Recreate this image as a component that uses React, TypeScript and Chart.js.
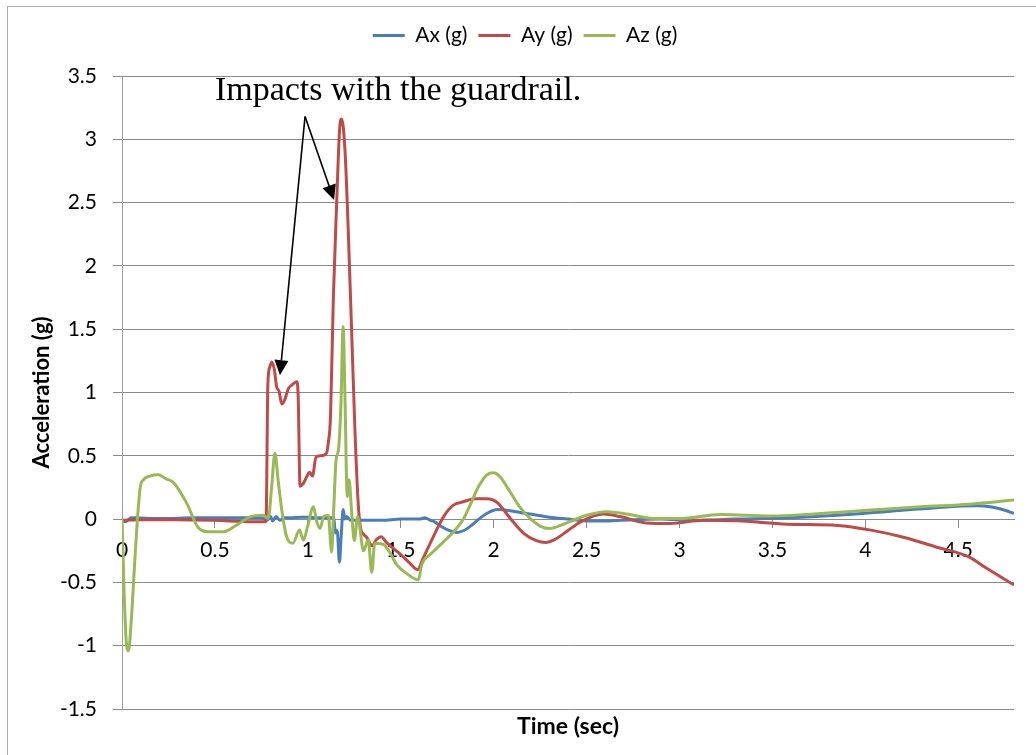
import { useEffect, useRef } from 'react';
import { Chart, registerables } from 'chart.js';

Chart.register(...registerables);

// ---- data (time in seconds, acceleration in g) ----
const axTime = [0, 0.02, 0.05, 0.2, 0.4, 0.6, 0.75, 0.78, 0.8, 0.81, 0.83, 0.85, 0.87, 0.9, 0.97, 1.0, 1.05, 1.1, 1.14, 1.148, 1.158, 1.17, 1.18, 1.19, 1.2, 1.21, 1.23, 1.3, 1.4, 1.5, 1.6, 1.63, 1.66, 1.68, 1.72, 1.77, 1.8, 1.84, 1.88, 1.92, 1.97, 2.02, 2.08, 2.15, 2.22, 2.3, 2.4, 2.5, 2.6, 2.75, 2.9, 3.05, 3.3, 3.6, 3.85, 4.12, 4.38, 4.6, 4.68, 4.75, 4.8];
const axValues = [-0.015, -0.02, 0.01, 0.005, 0.01, 0.01, 0.01, -0.01, 0.02, -0.015, 0.02, -0.01, 0.01, 0.01, 0.015, 0.015, 0.01, 0.01, 0.01, -0.11, -0.09, -0.34, -0.12, 0.075, 0.0, 0.02, -0.01, -0.01, -0.01, 0.0, 0.0, 0.01, -0.01, -0.02, -0.06, -0.095, -0.105, -0.09, -0.05, 0.0, 0.05, 0.075, 0.068, 0.05, 0.035, 0.015, 0.0, -0.015, -0.015, -0.005, 0.0, -0.01, 0.0, 0.01, 0.03, 0.06, 0.09, 0.105, 0.095, 0.07, 0.045];

const ayTime = [0, 0.1, 0.3, 0.5, 0.7, 0.775, 0.785, 0.795, 0.806, 0.82, 0.832, 0.845, 0.86, 0.875, 0.895, 0.915, 0.94, 0.948, 0.958, 0.975, 0.994, 1.01, 1.025, 1.044, 1.07, 1.1, 1.11, 1.122, 1.137, 1.155, 1.172, 1.182, 1.2, 1.218, 1.236, 1.254, 1.272, 1.285, 1.3, 1.32, 1.345, 1.37, 1.395, 1.42, 1.45, 1.5, 1.55, 1.59, 1.62, 1.675, 1.73, 1.783, 1.837, 1.9, 1.96, 1.99, 2.02, 2.09, 2.16, 2.23, 2.28, 2.33, 2.4, 2.47, 2.59, 2.68, 2.82, 2.95, 3.13, 3.31, 3.58, 3.85, 4.03, 4.21, 4.38, 4.56, 4.64, 4.8];
const ayValues = [-0.01, -0.005, -0.005, -0.01, -0.02, -0.02, 1.07, 1.2, 1.24, 1.18, 1.045, 1.01, 0.91, 0.94, 1.03, 1.06, 1.085, 0.97, 0.26, 0.28, 0.335, 0.37, 0.34, 0.49, 0.5, 0.52, 0.6, 0.81, 1.73, 2.49, 3.1, 3.16, 2.91, 2.26, 1.47, 0.68, 0.1, -0.08, -0.12, -0.15, -0.21, -0.16, -0.14, -0.18, -0.22, -0.28, -0.35, -0.4, -0.31, -0.14, 0.018, 0.11, 0.137, 0.16, 0.16, 0.155, 0.13, 0.005, -0.11, -0.17, -0.185, -0.16, -0.09, -0.02, 0.04, 0.02, -0.03, -0.034, -0.01, -0.014, -0.04, -0.05, -0.087, -0.145, -0.22, -0.3, -0.377, -0.52];

const azTime = [0, 0.012, 0.022, 0.035, 0.05, 0.07, 0.083, 0.098, 0.115, 0.15, 0.195, 0.235, 0.276, 0.348, 0.41, 0.47, 0.545, 0.617, 0.689, 0.76, 0.787, 0.805, 0.823, 0.84, 0.86, 0.886, 0.92, 0.955, 0.976, 1.0, 1.03, 1.048, 1.066, 1.085, 1.11, 1.128, 1.14, 1.152, 1.165, 1.178, 1.19, 1.2, 1.212, 1.222, 1.235, 1.25, 1.268, 1.3, 1.325, 1.344, 1.36, 1.406, 1.44, 1.478, 1.532, 1.595, 1.613, 1.658, 1.73, 1.8, 1.837, 1.873, 1.918, 1.963, 1.998, 2.034, 2.088, 2.14, 2.196, 2.25, 2.3, 2.36, 2.41, 2.5, 2.61, 2.716, 2.86, 3.0, 3.22, 3.49, 3.76, 4.03, 4.3, 4.56, 4.8];
const azValues = [0.0, -0.6, -0.95, -1.04, -0.8, -0.3, 0.0, 0.25, 0.31, 0.34, 0.35, 0.32, 0.29, 0.126, -0.066, -0.1, -0.1, -0.047, 0.018, 0.03, 0.005, 0.25, 0.52, 0.31, 0.07, -0.14, -0.19, -0.087, -0.166, -0.05, 0.097, -0.02, -0.074, 0.02, 0.03, -0.26, 0.1, 0.47, 0.55, 0.9, 1.52, 0.95, 0.18, 0.31, 0.07, -0.17, 0.02, -0.25, -0.166, -0.42, -0.19, -0.2, -0.26, -0.36, -0.43, -0.48, -0.36, -0.28, -0.18, -0.074, 0.0, 0.11, 0.255, 0.35, 0.366, 0.335, 0.216, 0.097, 0.005, -0.055, -0.074, -0.05, -0.02, 0.03, 0.058, 0.04, 0.005, 0.005, 0.037, 0.024, 0.045, 0.071, 0.097, 0.118, 0.15];

const seriesNames = ['Ax (g)', 'Ay (g)', 'Az (g)'];
const seriesColors = ['#4A7EBB', '#BE4B48', '#98B954'];

const xMin = 0;
const xMax = 4.8;
const xStep = 0.5;
const yMin = -1.5;
const yMax = 3.5;
const yStep = 0.5;

const xTitle = 'Time (sec)';
const yTitle = 'Acceleration (g)';

// annotation (in data units)
const noteText = 'Impacts with the guardrail.';
const noteAt = { t: 0.5, v: 3.31 };
const arrowFrom = { t: 0.985, v: 3.18 };
const arrowTips = [
  { t: 0.85, v: 1.137 },
  { t: 1.141, v: 2.52 },
];

const toPoints = (ts: number[], vs: number[]) => ts.map((t, i) => ({ x: t, y: vs[i] }));
const plainNumber = (value: any) => String(Number(value));

export default function App() {
  const ref = useRef<HTMLCanvasElement>(null);

  useEffect(() => {
    document.body.style.overflow = 'hidden';
    const canvas = ref.current;
    if (!canvas) return;

    const notePlugin = {
      id: 'guardrailNote',
      afterDatasetsDraw(chart: any) {
        const { ctx, scales } = chart;
        const x = scales.x;
        const y = scales.y;
        ctx.save();
        ctx.fillStyle = '#000';
        ctx.strokeStyle = '#000';
        ctx.font = '34px "Liberation Serif", "DejaVu Serif", serif';
        ctx.textAlign = 'left';
        ctx.textBaseline = 'alphabetic';
        ctx.fillText(noteText, x.getPixelForValue(noteAt.t), y.getPixelForValue(noteAt.v));
        const ox = x.getPixelForValue(arrowFrom.t);
        const oy = y.getPixelForValue(arrowFrom.v);
        arrowTips.forEach((tip) => {
          const tx = x.getPixelForValue(tip.t);
          const ty = y.getPixelForValue(tip.v);
          const a = Math.atan2(ty - oy, tx - ox);
          const c = Math.cos(a);
          const s = Math.sin(a);
          const headLen = 15;
          const headHalf = 7;
          const bx = tx - headLen * c;
          const by = ty - headLen * s;
          ctx.lineWidth = 1.6;
          ctx.beginPath();
          ctx.moveTo(ox, oy);
          ctx.lineTo(bx, by);
          ctx.stroke();
          ctx.beginPath();
          ctx.moveTo(tx, ty);
          ctx.lineTo(bx + headHalf * s, by - headHalf * c);
          ctx.lineTo(bx - headHalf * s, by + headHalf * c);
          ctx.closePath();
          ctx.fill();
        });
        ctx.restore();
      },
    };

    const datasets = [
      toPoints(axTime, axValues),
      toPoints(ayTime, ayValues),
      toPoints(azTime, azValues),
    ].map((data, i) => ({
      label: seriesNames[i],
      data,
      borderColor: seriesColors[i],
      backgroundColor: seriesColors[i],
      borderWidth: 3,
      pointRadius: 0,
      pointHoverRadius: 0,
      fill: false,
      cubicInterpolationMode: 'monotone' as const,
      order: 3 - i,
    }));

    Chart.defaults.font.family = 'Lato, "Open Sans", sans-serif';

    const chart = new Chart(canvas, {
      type: 'line',
      data: { datasets },
      options: {
        responsive: false,
        animation: false,
        layout: { padding: { left: 36, right: 22, top: 14, bottom: 0 } },
        plugins: {
          legend: {
            position: 'top',
            labels: {
              usePointStyle: true,
              pointStyle: 'line',
              pointStyleWidth: 32,
              padding: 11,
              color: '#000',
              font: { size: 21 },
              sort: (a: any, b: any) => a.datasetIndex - b.datasetIndex,
            },
          },
          subtitle: {
            display: true,
            text: '',
            weight: 500,
            padding: 0,
            font: { size: 20, lineHeight: 1 },
          } as any,
          title: {
            display: true,
            text: xTitle,
            position: 'bottom',
            fullSize: false,
            color: '#000',
            font: { size: 23, weight: 'bold' },
            padding: { top: 4, bottom: 14.4 },
          },
          tooltip: { enabled: false },
        },
        scales: {
          x: {
            type: 'linear',
            position: { y: 0 } as any,
            min: xMin,
            max: xMax,
            ticks: {
              stepSize: xStep,
              includeBounds: false,
              color: '#000',
              font: { size: 21 },
              padding: 11,
              maxRotation: 0,
              autoSkip: false,
              callback: plainNumber,
            },
            grid: { drawOnChartArea: false, drawTicks: true, tickLength: 8, tickColor: '#8a8a8a' },
            border: { color: '#8a8a8a', width: 1 },
          },
          y: {
            type: 'linear',
            min: yMin,
            max: yMax,
            ticks: { stepSize: yStep, color: '#000', font: { size: 21 }, padding: 16, callback: plainNumber },
            grid: { color: '#8a8a8a', tickLength: 9, drawTicks: true, tickColor: '#8a8a8a' },
            border: { color: '#a0a0a0', width: 1 },
            title: {
              display: true,
              text: yTitle,
              color: '#000',
              font: { size: 22, weight: 'bold', lineHeight: 1 },
              padding: { top: -5, bottom: 0 },
            },
            afterFit: (scale: any) => {
              scale.width = 86;
            },
          },
        },
      },
      plugins: [notePlugin],
    });

    return () => chart.destroy();
  }, []);

  return (
    <>
      <div
        style={{
          position: 'fixed',
          left: 7,
          top: 6,
          width: 1100,
          height: 900,
          border: '1px solid #b0b0b0',
        }}
      />
      <canvas ref={ref} width={1036} height={755} style={{ position: 'fixed', left: 0, top: 0 }} />
    </>
  );
}
